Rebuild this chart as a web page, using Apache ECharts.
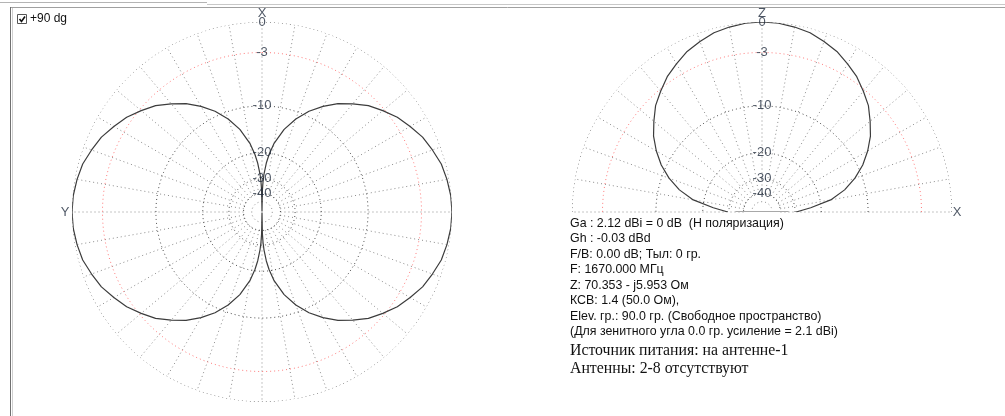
<!DOCTYPE html>
<html><head><meta charset="utf-8">
<script src="https://cdn.jsdelivr.net/npm/echarts@6/dist/echarts.min.js"></script>
<style>html,body{margin:0;padding:0;background:#fff;}#c{width:1005px;height:416px;}</style>
</head><body><div id="c"></div>
<script>
// ---- grid levels (dB) and their labels ----
const ringLevels = [-50, -40, -30, -20, -10, -3, 0];
const ringLabels = ['', '-40', '-30', '-20', '-10', '-3', '0'];
const azSpokes = [0, 10, 20, 30, 40, 50, 60, 70, 80, 90, 100, 110, 120, 130, 140, 150, 160, 170,
  180, 190, 200, 210, 220, 230, 240, 250, 260, 270, 280, 290, 300, 310, 320, 330, 340, 350];
const elSpokes = [0, 10, 20, 30, 40, 50, 60, 70, 80, 90, 100, 110, 120, 130, 140, 150, 160, 170, 180];
// ---- azimuth (horizontal plane) pattern: angle clockwise from X (top), gain dB ----
const azAngles = [0, 1, 2, 3, 5, 7, 10, 15, 20, 25, 30, 35, 40, 45, 50, 55, 60, 65, 70, 75, 80, 85, 90,
  95, 100, 105, 110, 115, 120, 125, 130, 135, 140, 145, 150, 155, 160, 165, 170, 173, 175, 177, 178, 179, 180,
  181, 182, 183, 185, 187, 190, 195, 200, 205, 210, 215, 220, 225, 230, 235, 240, 245, 250, 255, 260, 265, 270,
  275, 280, 285, 290, 295, 300, 305, 310, 315, 320, 325, 330, 335, 340, 345, 350, 353, 355, 357, 358, 359, 360];
const azGainDb = [-99, -37.3, -31.2, -27.7, -23.3, -20.4, -17.2, -13.7, -11.2, -9.2, -7.6, -6.2, -5.1, -4.0, -3.2, -2.4, -1.8, -1.2, -0.8, -0.4, -0.2, -0.05, 0,
  -0.05, -0.2, -0.4, -0.8, -1.2, -1.8, -2.4, -3.2, -4.0, -5.1, -6.2, -7.6, -9.2, -11.2, -13.7, -17.2, -20.4, -23.3, -27.7, -31.2, -37.3, -99,
  -37.3, -31.2, -27.7, -23.3, -20.4, -17.2, -13.7, -11.2, -9.2, -7.6, -6.2, -5.1, -4.0, -3.2, -2.4, -1.8, -1.2, -0.8, -0.4, -0.2, -0.05, 0,
  -0.05, -0.2, -0.4, -0.8, -1.2, -1.8, -2.4, -3.2, -4.0, -5.1, -6.2, -7.6, -9.2, -11.2, -13.7, -17.2, -20.4, -23.3, -27.7, -31.2, -37.3, -99];
// ---- elevation (vertical plane) pattern: elevation angle from +X horizon, gain dB ----
const elAngles = [0, 5, 10, 15, 20, 25, 30, 35, 40, 45, 50, 55, 60, 65, 70, 75, 80, 85, 90,
  95, 100, 105, 110, 115, 120, 125, 130, 135, 140, 145, 150, 155, 160, 165, 170, 175, 180];
const elGainDb = [-29.5, -23.3, -17.2, -13.7, -11.2, -9.2, -7.6, -6.2, -5.1, -4.0, -3.2, -2.4, -1.8, -1.2, -0.8, -0.4, -0.2, -0.05, 0,
  -0.05, -0.2, -0.4, -0.8, -1.2, -1.8, -2.4, -3.2, -4.0, -5.1, -6.2, -7.6, -9.2, -11.2, -13.7, -17.2, -23.3, -29.5];
const groundSegDb = -33.7;
const infoLines = [
  'Ga : 2.12 dBi = 0 dB  (H поляризация)',
  'Gh : -0.03 dBd',
  'F/B: 0.00 dB; Тыл: 0 гр.',
  'F: 1670.000 МГц',
  'Z: 70.353 - j5.953 Ом',
  'КСВ: 1.4 (50.0 Ом),',
  'Elev. гр.: 90.0 гр. (Свободное пространство)',
  '(Для зенитного угла 0.0 гр. усиление = 2.1 dBi)'
];
const sourceLines = ['Источник питания: на антенне-1', 'Антенны: 2-8 отсутствуют'];

// ARRL log-periodic radial scale (0.89 per 2 dB)
const R = db => Math.pow(0.89, -db / 2);
const dot = [1, 3];

function ringSeries(i, fromA, toA) {
  return ringLevels.map(d => {
    const pts = [];
    for (let a = fromA; a <= toA; a += 2) pts.push([R(d), a]);
    return {
      type: 'line', coordinateSystem: 'polar', polarIndex: i, data: pts, symbol: 'none', silent: true, z: 1,
      lineStyle: {color: d === -3 ? '#ff7b7b' : (d === -50 ? '#8c8c8c' : '#4a4a4a'), type: dot, width: 1}, clip: false
    };
  });
}
function spokeSeries(i, angles) {
  return {
    type: 'custom', coordinateSystem: 'polar', polarIndex: i, silent: true, z: 1,
    data: angles.map(a => [1, a]),
    renderItem: (params, api) => {
      const a = api.value(1);
      const p0 = api.coord([R(ringLevels[1]), a]);
      const p1 = api.coord([1, a]);
      return {type: 'line', shape: {x1: p0[0], y1: p0[1], x2: p1[0], y2: p1[1]},
        style: {stroke: '#8c8c8c', lineWidth: 1, lineDash: dot, fill: null}};
    }
  };
}
function radiusAxis(i) {
  return {
    polarIndex: i, type: 'value', min: 0, max: 1,
    axisLine: {show: false}, axisLabel: {show: false}, axisTick: {show: false}, splitLine: {show: false}
  };
}
const lblStyle = {color: '#1f2a3c', fontFamily: 'Liberation Sans, Arial, sans-serif', fontSize: 13};
function labelSeries(i, angle, extra) {
  const data = [];
  ringLevels.forEach((d, k) => { if (ringLabels[k]) data.push({value: [R(d), angle], name: ringLabels[k]}); });
  extra.forEach(e => data.push({value: [1, e[0]], name: e[1], label: {offset: e[2]}}));
  return {
    type: 'scatter', coordinateSystem: 'polar', polarIndex: i, symbolSize: 0, silent: true, z: 5,
    data: data,
    label: Object.assign({show: true, position: 'inside', formatter: p => p.name}, lblStyle)
  };
}
const azData = azAngles.map((a, k) => [R(azGainDb[k]), a]);
const elData = elAngles.map((a, k) => [R(elGainDb[k]), a]);

const graphics = [
  {type: 'line', shape: {x1: 0, y1: 2.5, x2: 207, y2: 2.5}, style: {stroke: '#b4b4b4', lineWidth: 1}},
  {type: 'line', shape: {x1: 207, y1: 4.5, x2: 1005, y2: 4.5}, style: {stroke: '#c8c8c8', lineWidth: 1}},
  {type: 'line', shape: {x1: 10, y1: 7.5, x2: 1005, y2: 7.5}, style: {stroke: '#a0a0a0', lineWidth: 1}},
  {type: 'line', shape: {x1: 10.5, y1: 7, x2: 10.5, y2: 416}, style: {stroke: '#707070', lineWidth: 1}},
  {type: 'line', shape: {x1: 12.5, y1: 8, x2: 12.5, y2: 416}, style: {stroke: '#d0d0d0', lineWidth: 1}},
  {type: 'rect', shape: {x: 17.5, y: 14.5, width: 9, height: 9}, style: {fill: '#fff', stroke: '#555', lineWidth: 1}},
  {type: 'polyline', shape: {points: [[19.5, 19], [21.5, 21.5], [25, 16.5]]}, style: {stroke: '#111', lineWidth: 1.6, fill: null}},
  {type: 'text', x: 30, y: 19, style: {text: '+90 dg', font: '12px Liberation Sans, Arial, sans-serif', fill: '#111', textVerticalAlign: 'middle'}},
  {type: 'text', x: 570, y: 215.5, style: {text: infoLines.join('\n'), font: '12.4px Liberation Sans, Arial, sans-serif', fill: '#111', lineHeight: 15.5}},
  {type: 'text', x: 570, y: 342, style: {text: sourceLines.join('\n'), font: '15.8px Liberation Serif, Times New Roman, serif', fill: '#111', lineHeight: 18}}
];

const option = {
  animation: false,
  backgroundColor: '#fff',
  polar: [{center: [262, 212], radius: 190}, {center: [762, 212], radius: 190}],
  angleAxis: [
    {polarIndex: 0, type: 'value', min: 0, max: 360, startAngle: 90, clockwise: true,
      axisLine: {show: false}, axisTick: {show: false}, axisLabel: {show: false}, splitLine: {show: false}},
    {polarIndex: 1, type: 'value', min: 0, max: 180, startAngle: 0, endAngle: 180, clockwise: false,
      axisLine: {show: false}, axisTick: {show: false}, axisLabel: {show: false}, splitLine: {show: false}}
  ],
  radiusAxis: [radiusAxis(0), radiusAxis(1)],
  series: [].concat(
    [spokeSeries(0, azSpokes), spokeSeries(1, elSpokes)],
    ringSeries(0, 0, 360),
    ringSeries(1, 0, 180),
    [
      {type: 'line', coordinateSystem: 'polar', polarIndex: 0, data: azData, symbol: 'none', z: 4,
        lineStyle: {color: '#3c3c3c', width: 1.2}, clip: false},
      {type: 'line', coordinateSystem: 'polar', polarIndex: 1, data: elData, symbol: 'none', z: 4,
        lineStyle: {color: '#3c3c3c', width: 1.2}, clip: false},
      {type: 'line', coordinateSystem: 'polar', polarIndex: 1, data: [[R(groundSegDb), 0], [R(groundSegDb), 180]], symbol: 'none', z: 3,
        lineStyle: {color: '#a8a8a8', width: 2}, clip: false},
      labelSeries(0, 0, [[0, 'X', [0, -9]], [270, 'Y', [-7, 0]]]),
      labelSeries(1, 90, [[90, 'Z', [0, -9]], [0, 'X', [5, 0]]])
    ]
  ),
  graphic: graphics
};
const chart = echarts.init(document.getElementById('c'), null, {renderer: 'canvas'});
chart.setOption(option);
</script></body></html>
